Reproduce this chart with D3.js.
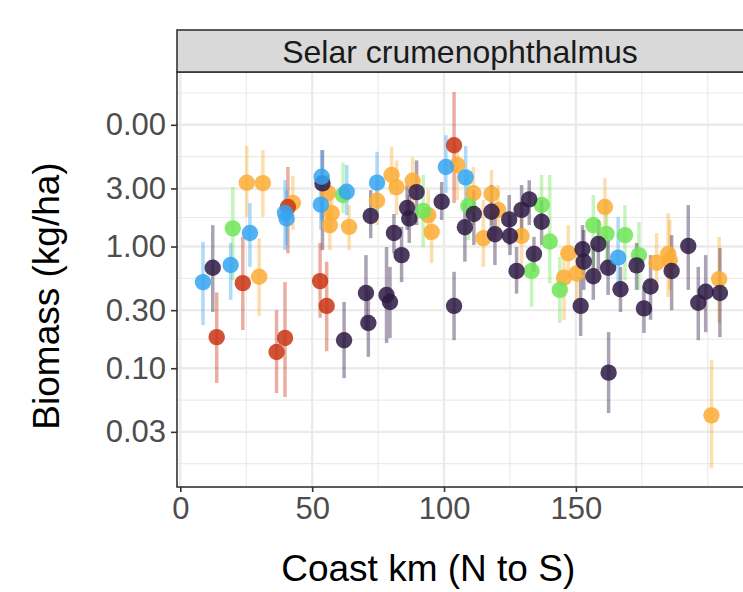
<!DOCTYPE html>
<html>
<head>
<meta charset="utf-8">
<script src="https://cdn.jsdelivr.net/npm/d3@7"></script>
<style>
  body { margin: 0; background: #fff; }
  svg { display: block; font-family: "Liberation Sans", Arial, sans-serif; }
</style>
</head>
<body>
<script>
const width = 743;
const height = 592;

// x ticks / y ticks as printed on the figure
const xTicks = [0, 50, 100, 150];
const xMinor = [25, 75, 125, 175, 200];
const yTicks = [0.03, 0.1, 0.3, 1, 3, 10];
const yTickLabels = ["0.03", "0.10", "0.30", "1.00", "3.00", "0.00"];

// [coast km, biomass, lower, upper] per colour group
const darkSeries = [
  [12.3, 0.67, 0.29, 1.5], [53.9, 3.3, 0.935, 6.2], [62.1, 0.17, 0.083, 0.35],
  [70.4, 0.415, 0.206, 0.85], [71.3, 0.235, 0.124, 0.44], [72.2, 1.78, 1.17, 2.91],
  [78.2, 0.40, 0.161, 0.99], [79.5, 0.35, 0.177, 0.68], [81.0, 1.29, 0.88, 1.85],
  [83.9, 0.85, 0.51, 1.45], [86.0, 2.07, 1.37, 3.2], [86.8, 1.70, 1.07, 2.65],
  [89.6, 2.8, 1.5, 5.1], [99.1, 2.33, 1.65, 3.39], [103.8, 0.325, 0.17, 0.62],
  [107.9, 1.44, 0.75, 2.28], [111.3, 1.85, 1.03, 2.91], [118.0, 1.93, 1.13, 3.2],
  [119.3, 1.26, 0.705, 2.0], [124.7, 1.67, 1.03, 2.65], [125.0, 1.22, 0.85, 1.81],
  [127.5, 0.63, 0.41, 0.99], [129.4, 2.0, 1.13, 3.2], [132.3, 2.44, 1.5, 3.5],
  [134.1, 0.87, 0.62, 1.2], [137.0, 1.6, 1.03, 2.4], [152.5, 0.95, 0.58, 1.5],
  [153.0, 0.75, 0.44, 1.37], [151.8, 0.325, 0.184, 0.56], [156.6, 0.57, 0.365, 1.03],
  [158.5, 1.05, 0.64, 1.65], [162.2, 0.67, 0.40, 1.13], [162.4, 0.092, 0.0428, 0.198],
  [166.9, 0.445, 0.29, 0.68], [173.0, 0.70, 0.44, 1.07], [175.8, 0.31, 0.195, 0.465],
  [178.3, 0.47, 0.25, 0.85], [186.3, 0.63, 0.30, 1.24], [192.6, 1.01, 0.44, 2.19],
  [196.4, 0.345, 0.17, 0.68], [199.2, 0.425, 0.198, 0.85], [204.6, 0.415, 0.18, 0.97]
];
const redSeries = [
  [13.8, 0.18, 0.0756, 0.42], [23.7, 0.50, 0.206, 1.20], [36.5, 0.136, 0.0625, 0.30],
  [39.7, 0.177, 0.058, 0.51], [40.8, 2.11, 0.88, 4.5], [53.0, 0.52, 0.26, 1.07],
  [55.5, 0.325, 0.138, 0.75], [103.8, 6.8, 2.28, 18.6]
];
const blueSeries = [
  [8.6, 0.51, 0.226, 1.09], [19.1, 0.705, 0.365, 1.07], [26.4, 1.29, 0.68, 2.28],
  [39.7, 1.89, 0.935, 3.52], [40.3, 1.70, 1.03, 2.91], [53.6, 3.74, 1.65, 6.2],
  [53.3, 2.21, 1.37, 3.52], [63.1, 2.82, 1.81, 4.68], [74.6, 3.35, 1.81, 6.0],
  [100.7, 4.5, 2.75, 8.2], [108.2, 3.7, 2.2, 6.7], [166.0, 0.81, 0.44, 1.75]
];
const greenSeries = [
  [19.9, 1.41, 0.53, 3.09], [61.7, 2.65, 1.88, 4.9], [92.1, 1.96, 0.99, 3.87],
  [109.2, 2.15, 1.13, 3.87], [137.0, 2.2, 1.37, 3.87], [140.1, 1.1, 0.50, 3.87],
  [133.2, 0.63, 0.32, 0.935], [143.9, 0.44, 0.235, 0.82], [156.6, 1.5, 0.64, 2.65],
  [161.6, 1.27, 0.705, 2.4], [168.6, 1.24, 0.53, 2.19], [173.9, 0.85, 0.44, 1.59]
];
const orangeSeries = [
  [25.2, 3.34, 1.75, 6.7], [31.3, 3.32, 1.75, 6.2], [29.9, 0.565, 0.27, 1.17],
  [42.7, 2.28, 1.37, 3.8], [56.0, 2.75, 1.3, 3.87], [57.4, 1.88, 1.3, 2.8],
  [56.7, 1.50, 0.935, 2.4], [64.0, 1.45, 0.935, 2.19], [74.6, 2.38, 1.5, 3.5],
  [80.1, 3.87, 2.65, 6.6], [82.0, 3.07, 1.81, 5.1], [88.1, 3.47, 2.0, 5.4],
  [94.0, 1.81, 1.13, 2.91], [95.3, 1.32, 0.73, 1.92], [105.0, 4.68, 2.41, 6.6],
  [111.1, 2.74, 1.5, 4.5], [118.0, 2.70, 1.5, 4.25], [120.5, 2.0, 1.24, 3.2],
  [114.9, 1.17, 0.68, 2.41], [129.4, 1.22, 0.705, 2.41], [147.1, 0.88, 0.55, 1.5],
  [145.5, 0.555, 0.25, 0.935], [150.3, 0.60, 0.365, 1.03], [161.0, 2.11, 1.13, 3.65],
  [180.6, 0.735, 0.44, 1.29], [185.0, 0.87, 0.385, 1.88], [185.6, 0.77, 0.44, 1.65],
  [204.3, 0.54, 0.235, 1.2], [201.4, 0.041, 0.0151, 0.117]
];

// drawing order: later groups sit on top
const groups = [
  { name: "orange", color: "#fbad35", data: orangeSeries },
  { name: "green", color: "#6ee556", data: greenSeries },
  { name: "dark", color: "#2e1a44", data: darkSeries },
  { name: "red", color: "#c93514", data: redSeries },
  { name: "blue", color: "#35a4f2", data: blueSeries }
];

const panel = { left: 177, right: 760, top: 72, bottom: 487 };

const x = d3.scaleLinear()
  .domain([-1.25, 219.8])
  .range([panel.left, panel.right]);

const y = d3.scaleLog()
  .domain([0.01057, 27.16])
  .range([panel.bottom, panel.top]);

const svg = d3.select("body")
  .append("svg")
  .attr("width", width)
  .attr("height", height);

// panel background
svg.append("rect")
  .attr("x", panel.left).attr("y", panel.top)
  .attr("width", panel.right - panel.left)
  .attr("height", panel.bottom - panel.top)
  .attr("fill", "#fff");

// minor y breaks: halfway (in log space) between majors, plus one step beyond each end
const yb = yTicks.slice();
const step = yb[1] / yb[0];
const ybExt = [yb[0] / step, ...yb, yb[yb.length - 1] * step];
const yMinor = d3.pairs(ybExt).map(([a, b]) => Math.sqrt(a * b));

const grid = svg.append("g");
grid.selectAll(".ymin")
  .data(yMinor.filter(v => y(v) > panel.top && y(v) < panel.bottom))
  .join("line")
  .attr("x1", panel.left).attr("x2", panel.right)
  .attr("y1", d => y(d)).attr("y2", d => y(d))
  .attr("stroke", "#ebebeb").attr("stroke-width", 1.2);
grid.selectAll(".xmin")
  .data(xMinor)
  .join("line")
  .attr("x1", d => x(d)).attr("x2", d => x(d))
  .attr("y1", panel.top).attr("y2", panel.bottom)
  .attr("stroke", "#ebebeb").attr("stroke-width", 1.2);
grid.selectAll(".ymaj")
  .data(yTicks)
  .join("line")
  .attr("x1", panel.left).attr("x2", panel.right)
  .attr("y1", d => y(d)).attr("y2", d => y(d))
  .attr("stroke", "#ebebeb").attr("stroke-width", 2.4);
grid.selectAll(".xmaj")
  .data(xTicks)
  .join("line")
  .attr("x1", d => x(d)).attr("x2", d => x(d))
  .attr("y1", panel.top).attr("y2", panel.bottom)
  .attr("stroke", "#ebebeb").attr("stroke-width", 2.4);

// error bars first, then points (ggplot layer order)
const marks = svg.append("g");
groups.forEach(g => {
  marks.append("g")
    .selectAll("line")
    .data(g.data)
    .join("line")
    .attr("x1", d => x(d[0])).attr("x2", d => x(d[0]))
    .attr("y1", d => y(d[2])).attr("y2", d => y(d[3]))
    .attr("stroke", g.color)
    .attr("stroke-opacity", 0.4)
    .attr("stroke-width", 3.5);
});
groups.forEach(g => {
  marks.append("g")
    .selectAll("circle")
    .data(g.data)
    .join("circle")
    .attr("cx", d => x(d[0]))
    .attr("cy", d => y(d[1]))
    .attr("r", 8.2)
    .attr("fill", g.color)
    .attr("fill-opacity", 0.85);
});

// panel border
svg.append("rect")
  .attr("x", panel.left).attr("y", panel.top)
  .attr("width", panel.right - panel.left)
  .attr("height", panel.bottom - panel.top)
  .attr("fill", "none")
  .attr("stroke", "#333").attr("stroke-width", 1.6);

// strip
svg.append("rect")
  .attr("x", panel.left).attr("y", 30)
  .attr("width", panel.right - panel.left)
  .attr("height", panel.top - 30)
  .attr("fill", "#d9d9d9")
  .attr("stroke", "#333").attr("stroke-width", 1.6);
svg.append("text")
  .attr("x", (panel.left + width) / 2)
  .attr("y", 51)
  .attr("dy", "0.36em")
  .attr("text-anchor", "middle")
  .attr("fill", "#1a1a1a")
  .style("font-size", "32px")
  .text("Selar crumenophthalmus");

// axes
const xAxis = svg.append("g")
  .attr("transform", `translate(0,${panel.bottom})`)
  .call(d3.axisBottom(x).tickValues(xTicks).tickSize(5).tickPadding(5));
const yAxis = svg.append("g")
  .attr("transform", `translate(${panel.left},0)`)
  .call(d3.axisLeft(y).tickValues(yTicks).tickSize(6).tickPadding(5)
    .tickFormat((d, i) => yTickLabels[i]));
[xAxis, yAxis].forEach(a => {
  a.select(".domain").remove();
  a.selectAll(".tick line").attr("stroke", "#333").attr("stroke-width", 1.6);
  a.selectAll(".tick text")
    .attr("fill", "#4d4d4d")
    .style("font-size", "31px")
    .style("font-family", "'Liberation Sans', Arial, sans-serif");
});

svg.append("text")
  .attr("x", x(94))
  .attr("y", 581)
  .attr("text-anchor", "middle")
  .attr("fill", "#000")
  .style("font-size", "37px")
  .text("Coast km (N to S)");

svg.append("text")
  .attr("transform", "translate(59,296) rotate(-90)")
  .attr("text-anchor", "middle")
  .attr("fill", "#000")
  .style("font-size", "37px")
  .text("Biomass (kg/ha)");
</script>
</body>
</html>
